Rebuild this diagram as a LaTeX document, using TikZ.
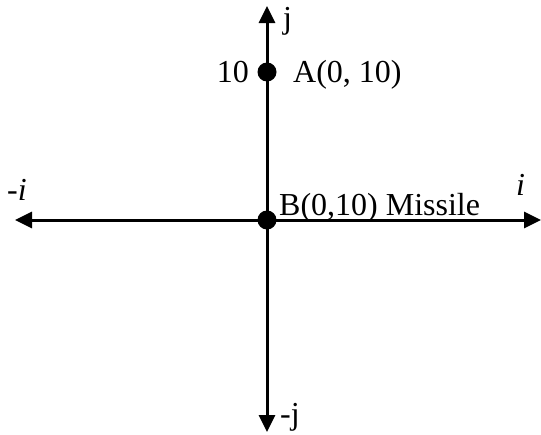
\documentclass[tikz,border=0pt]{standalone}
\usepackage{fontspec}
\setmainfont{Liberation Serif}
\usetikzlibrary{arrows.meta}
\begin{document}
\begin{tikzpicture}[x=1pt,y=-1pt,
  axis/.style={line width=3pt,{Triangle[length=17pt,width=16pt]}-{Triangle[length=17pt,width=16pt]}},
  dot/.style={circle,fill=black,inner sep=0pt,minimum size=19pt},
  lbl/.style={inner sep=0pt,anchor=base west,font=\fontsize{32}{38}\selectfont}]
\useasboundingbox (0,0) rectangle (541,434);
\coordinate (L) at (15,220);
\coordinate (R) at (541,220);
\coordinate (T) at (267,6);
\coordinate (D) at (267,432);
\draw[axis] (L) -- (R);
\draw[axis] (D) -- (T);
\node[dot] (A) at (267,72) {};
\node[dot] (B) at (267,220) {};
\node[lbl] (lj) at (283,28) {j};
\node[lbl,anchor=base east] (l10) at (249,82) {10};
\node[lbl] (lA) at (293,82) {A(0, 10)};
\node[lbl] (lmi) at (7,200) {-\textit{i}};
\node[lbl] (li) at (516,195) {\textit{i}};
\node[lbl] (lB) at (279,215) {B(0,10) Missile};
\node[lbl] (lmj) at (280,424) {-j};
\end{tikzpicture}
\end{document}
